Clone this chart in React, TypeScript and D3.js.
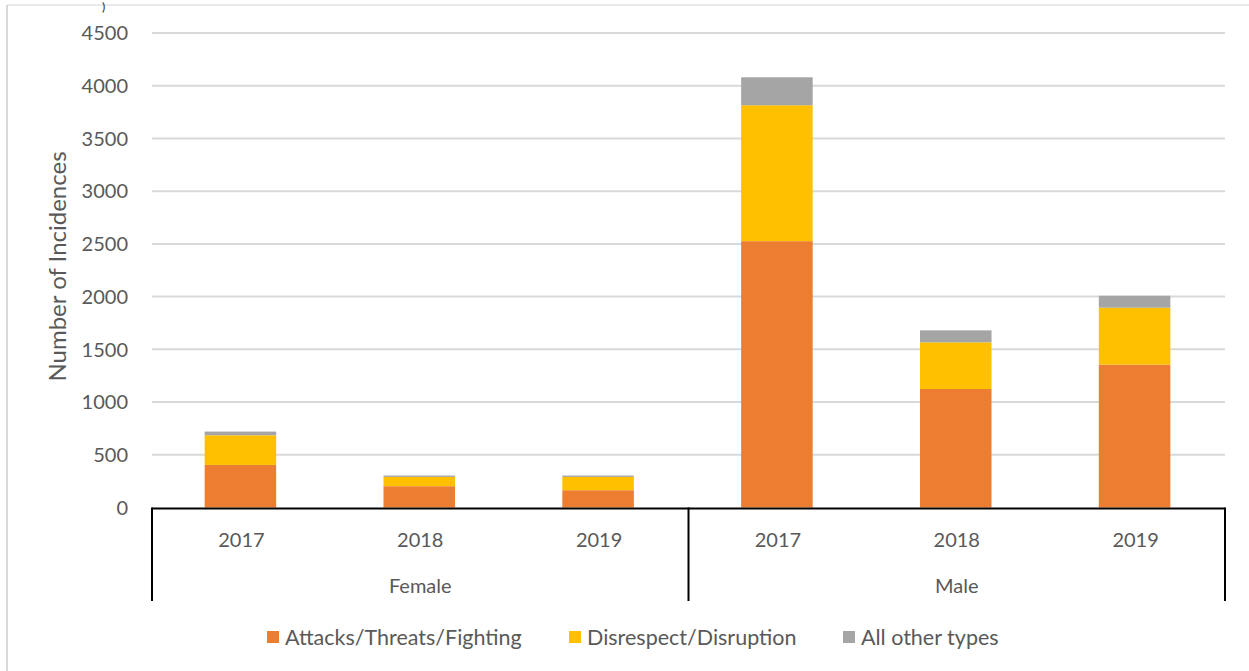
import React from "react";
import * as d3 from "d3";

const genders = ["Female", "Male"];
const years = ["2017", "2018", "2019"];
const attacks = [404, 202, 164, 2526, 1124, 1355];
const disrespect = [281, 88, 126, 1289, 442, 540];
const otherTypes = [35, 13, 13, 265, 114, 113];
const seriesNames = ["Attacks/Threats/Fighting", "Disrespect/Disruption", "All other types"];
const seriesColors = ["#ED7D31", "#FFC000", "#A5A5A5"];
const yTicks = [0, 500, 1000, 1500, 2000, 2500, 3000, 3500, 4000, 4500];

const W = 1249;
const H = 671;
const FONT = "Lato, 'Open Sans', sans-serif";
const TXT = "#595959";

export default function App() {
  const left = 152;
  const right = 1225;
  const top = 33;
  const bottom = 507.5;

  const cats = genders.flatMap((g) => years.map((y) => `${g}-${y}`));
  const rows = cats.map((c, i) => ({
    key: c,
    attacks: attacks[i],
    disrespect: disrespect[i],
    other: otherTypes[i],
  }));
  const keys = ["attacks", "disrespect", "other"];
  const stacked = d3.stack<any>().keys(keys)(rows);

  const x = d3.scaleBand().domain(cats).range([left, right]).paddingInner(0.6).paddingOuter(0.3);
  const y = d3.scaleLinear().domain([0, 4500]).range([bottom, top]);
  const gx = d3.scaleBand().domain(genders).range([left, right]);
  const step = (right - left) / cats.length;

  const legendX = [267, 569, 843];

  return (
    <svg width={W} height={H} style={{ position: "absolute", left: 0, top: 0, background: "#fff" }}>
      <rect x={0} y={0} width={W} height={H} fill="#fff" />
      {/* frame */}
      <line x1={7} x2={W} y1={5} y2={5} stroke="#e3e3e3" strokeWidth={1.5} />
      <line x1={7} x2={7} y1={5} y2={H} stroke="#d9d9d9" strokeWidth={2} />
      <text x={102} y={11} fontFamily={FONT} fontSize={12} fill="#222">)</text>
      {/* gridlines */}
      {yTicks.map((t) => (
        <g key={t}>
          {t > 0 && (
            <line x1={left} x2={right} y1={y(t)} y2={y(t)} stroke="#d9d9d9" strokeWidth={2} />
          )}
          <text
            x={128}
            y={y(t)}
            dy="0.36em"
            textAnchor="end"
            fontFamily={FONT}
            fontSize={20}
            fill={TXT}
          >
            {t}
          </text>
        </g>
      ))}
      {/* bars */}
      {stacked.map((s, si) =>
        s.map((d, i) => (
          <rect
            key={`${si}-${i}`}
            x={x(cats[i])! - 1}
            y={y(d[1])}
            width={x.bandwidth()}
            height={y(d[0]) - y(d[1])}
            fill={seriesColors[si]}
          />
        ))
      )}
      {/* axis */}
      <line x1={left} x2={right} y1={bottom + 1} y2={bottom + 1} stroke="#000" strokeWidth={2} />
      {[0, 1, 2].map((i) => {
        const xx = left + i * ((right - left) / 2);
        return <line key={i} x1={xx} x2={xx} y1={bottom} y2={601} stroke="#000" strokeWidth={2} />;
      })}
      {cats.map((c, i) => (
        <text
          key={c}
          x={left + step * (i + 0.5)}
          y={540}
          dy="0.36em"
          textAnchor="middle"
          fontFamily={FONT}
          fontSize={20}
          fill={TXT}
        >
          {years[i % 3]}
        </text>
      ))}
      {genders.map((g) => (
        <text
          key={g}
          x={gx(g)! + gx.bandwidth() / 2}
          y={586}
          dy="0.36em"
          textAnchor="middle"
          fontFamily={FONT}
          fontSize={20}
          fill={TXT}
        >
          {g}
        </text>
      ))}
      {/* y title */}
      <text
        transform={`translate(57,${(153 + 380) / 2}) rotate(-90)`}
        dy="0.36em"
        textAnchor="middle"
        fontFamily={FONT}
        fontSize={24}
        fill={TXT}
      >
        Number of Incidences
      </text>
      {/* legend */}
      {seriesNames.map((n, i) => (
        <g key={n}>
          <rect x={legendX[i]} y={631} width={12} height={12} fill={seriesColors[i]} />
          <text
            x={legendX[i] + 18}
            y={637}
            dy="0.36em"
            fontFamily={FONT}
            fontSize={21.5}
            fill={TXT}
          >
            {n}
          </text>
        </g>
      ))}
    </svg>
  );
}
